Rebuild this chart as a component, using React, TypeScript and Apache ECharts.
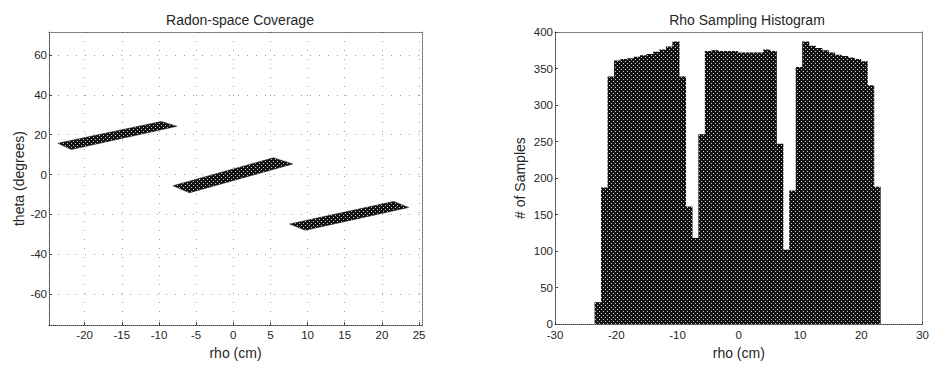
import { useEffect, useRef } from 'react';
import * as echarts from 'echarts';

// ---------- Left panel: Radon-space coverage (parallelogram vertices) ----------
const coverageXTicks = [-20, -15, -10, -5, 0, 5, 10, 15, 20, 25];
const coverageYTicks = [-60, -40, -20, 0, 20, 40, 60];

const band1Rho = [-23.6, -9.7, -7.6, -21.8];
const band1Theta = [15.7, 26.6, 24.2, 12.6];
const band2Rho = [-8.1, 5.4, 8.0, -5.9];
const band2Theta = [-5.6, 8.4, 5.3, -9.1];
const band3Rho = [7.6, 21.6, 23.6, 9.7];
const band3Theta = [-24.8, -13.5, -16.5, -27.9];

// ---------- Right panel: rho sampling histogram ----------
const rhoBinCenters = [
  -23.01, -21.95, -20.89, -19.83, -18.78, -17.72, -16.66, -15.6, -14.54, -13.48, -12.42,
  -11.36, -10.3, -9.24, -8.18, -7.13, -6.07, -5.01, -3.95, -2.89, -1.83, -0.77, 0.29,
  1.35, 2.41, 3.47, 4.52, 5.58, 6.64, 7.7, 8.76, 9.82, 10.88, 11.94, 13.0, 14.06, 15.11,
  16.17, 17.23, 18.29, 19.35, 20.41, 21.47, 22.53,
];
const sampleCounts = [
  30, 187, 339, 361, 363, 364, 366, 368, 370, 373, 376, 380, 387, 339, 161, 118, 260,
  374, 375, 374, 374, 374, 372, 372, 372, 372, 376, 374, 247, 102, 183, 352, 387, 381,
  378, 375, 372, 369, 367, 365, 363, 360, 327, 188,
];
const BIN_WIDTH = 1.059;

const FONT = '"Liberation Sans", Arial, Helvetica, sans-serif';
const TEXT = '#262626';

export default function App() {
  const ref = useRef<HTMLDivElement>(null);

  useEffect(() => {
    document.body.style.margin = '0';
    if (!ref.current) return;
    const chart = echarts.init(ref.current, undefined, { renderer: 'svg' });

    // halftone-like texture (dark with light dots)
    const cv = document.createElement('canvas');
    cv.width = 4;
    cv.height = 4;
    const ctx = cv.getContext('2d');
    let fill: any = '#2a2a2a';
    if (ctx) {
      ctx.fillStyle = '#121212';
      ctx.fillRect(0, 0, 4, 4);
      ctx.fillStyle = '#cfcfcf';
      ctx.fillRect(1, 1, 1, 1);
      ctx.fillRect(3, 3, 1, 1);
      fill = { image: cv, repeat: 'repeat' };
    }

    const bandsRho = [band1Rho, band2Rho, band3Rho];
    const bandsTheta = [band1Theta, band2Theta, band3Theta];
    const bandData = bandsRho.map((r, i) => [
      r.reduce((a, b) => a + b, 0) / r.length,
      bandsTheta[i].reduce((a, b) => a + b, 0) / bandsTheta[i].length,
    ]);

    const tickLabel = { color: TEXT, fontSize: 11.5, fontFamily: FONT };
    const nameStyle = { color: TEXT, fontSize: 14, fontFamily: FONT };
    const titleStyle = { color: TEXT, fontSize: 14, fontWeight: 'normal' as const, fontFamily: FONT };
    const boxLine = { show: true, onZero: false, lineStyle: { color: '#3a3a3a', width: 1, type: 'dotted' as const } };
    const grid = { show: true, type: [1, 8], color: '#9a9a9a', width: 1 };

    chart.setOption({
      animation: false,
      backgroundColor: '#ffffff',
      title: [
        { text: 'Radon-space Coverage', left: 235, top: 8, textAlign: 'center', textStyle: titleStyle },
        { text: 'Rho Sampling Histogram', left: 742, top: 8, textAlign: 'center', textStyle: titleStyle },
      ],
      grid: [
        { left: 49, right: 510, top: 32, bottom: 39 },
        { left: 555, right: 1, top: 32, bottom: 38 },
      ],
      xAxis: [
        {
          type: 'value',
          gridIndex: 0,
          min: -24.8,
          max: 25.4,
          position: 'bottom',
          name: 'rho (cm)',
          nameLocation: 'middle',
          nameGap: 17,
          nameTextStyle: nameStyle,
          axisLine: boxLine,
          axisTick: { show: true, inside: true, length: 3, customValues: coverageXTicks, lineStyle: { color: '#444' } },
          axisLabel: { ...tickLabel, margin: 4, customValues: coverageXTicks },
          splitLine: { show: true, lineStyle: grid },
        },
        {
          type: 'value',
          gridIndex: 0,
          min: -24.8,
          max: 25.4,
          position: 'top',
          axisLine: { ...boxLine, lineStyle: { ...boxLine.lineStyle, color: '#666' } },
          axisTick: { show: false },
          axisLabel: { show: false },
          splitLine: { show: false },
        },
        {
          type: 'value',
          gridIndex: 1,
          min: -30,
          max: 30,
          interval: 10,
          position: 'bottom',
          name: 'rho (cm)',
          nameLocation: 'middle',
          nameGap: 20,
          nameTextStyle: nameStyle,
          axisLine: boxLine,
          axisTick: { show: true, inside: true, length: 3, lineStyle: { color: '#444' } },
          axisLabel: { ...tickLabel, margin: 5 },
          splitLine: { show: false },
        },
        {
          type: 'value',
          gridIndex: 1,
          min: -30,
          max: 30,
          position: 'top',
          axisLine: { ...boxLine, lineStyle: { ...boxLine.lineStyle, color: '#666' } },
          axisTick: { show: false },
          axisLabel: { show: false },
          splitLine: { show: false },
        },
      ],
      yAxis: [
        {
          type: 'value',
          gridIndex: 0,
          min: -75.5,
          max: 71.5,
          position: 'left',
          name: 'theta (degrees)',
          nameLocation: 'middle',
          nameGap: 22,
          nameTextStyle: nameStyle,
          axisLine: boxLine,
          axisTick: { show: true, inside: true, length: 3, customValues: coverageYTicks, lineStyle: { color: '#444' } },
          axisLabel: { ...tickLabel, margin: 2, customValues: coverageYTicks },
          splitLine: { show: true, lineStyle: grid },
        },
        {
          type: 'value',
          gridIndex: 0,
          min: -75.5,
          max: 71.5,
          position: 'right',
          axisLine: { ...boxLine, lineStyle: { ...boxLine.lineStyle, color: '#666' } },
          axisTick: { show: false },
          axisLabel: { show: false },
          splitLine: { show: false },
        },
        {
          type: 'value',
          gridIndex: 1,
          min: 0,
          max: 400,
          interval: 50,
          position: 'left',
          name: '# of Samples',
          nameLocation: 'middle',
          nameGap: 28,
          nameTextStyle: nameStyle,
          axisLine: boxLine,
          axisTick: { show: true, inside: true, length: 3, lineStyle: { color: '#444' } },
          axisLabel: { ...tickLabel, margin: 2 },
          splitLine: { show: false },
        },
        {
          type: 'value',
          gridIndex: 1,
          min: 0,
          max: 400,
          position: 'right',
          axisLine: { ...boxLine, lineStyle: { ...boxLine.lineStyle, color: '#666' } },
          axisTick: { show: false },
          axisLabel: { show: false },
          splitLine: { show: false },
        },
      ],
      series: [
        {
          type: 'custom',
          name: 'coverage',
          xAxisIndex: 0,
          yAxisIndex: 0,
          data: bandData,
          renderItem: (params: any, api: any) => {
            const i = params.dataIndex;
            const pts = bandsRho[i].map((r, j) => api.coord([r, bandsTheta[i][j]]));
            return {
              type: 'polygon',
              shape: { points: pts },
              style: { fill, stroke: '#151515', lineWidth: 0.6 },
            };
          },
        },
        {
          type: 'custom',
          name: 'histogram',
          xAxisIndex: 2,
          yAxisIndex: 2,
          data: rhoBinCenters.map((c, i) => [c, sampleCounts[i]]),
          renderItem: (params: any, api: any) => {
            const c = api.value(0);
            const h = api.value(1);
            const p0 = api.coord([c - BIN_WIDTH / 2, h]);
            const p1 = api.coord([c + BIN_WIDTH / 2, 0]);
            return {
              type: 'rect',
              shape: { x: p0[0], y: p0[1], width: p1[0] - p0[0] + 0.6, height: p1[1] - p0[1] },
              style: { fill },
            };
          },
        },
      ],
    });

    return () => chart.dispose();
  }, []);

  return <div ref={ref} style={{ width: 932, height: 365 }} />;
}
